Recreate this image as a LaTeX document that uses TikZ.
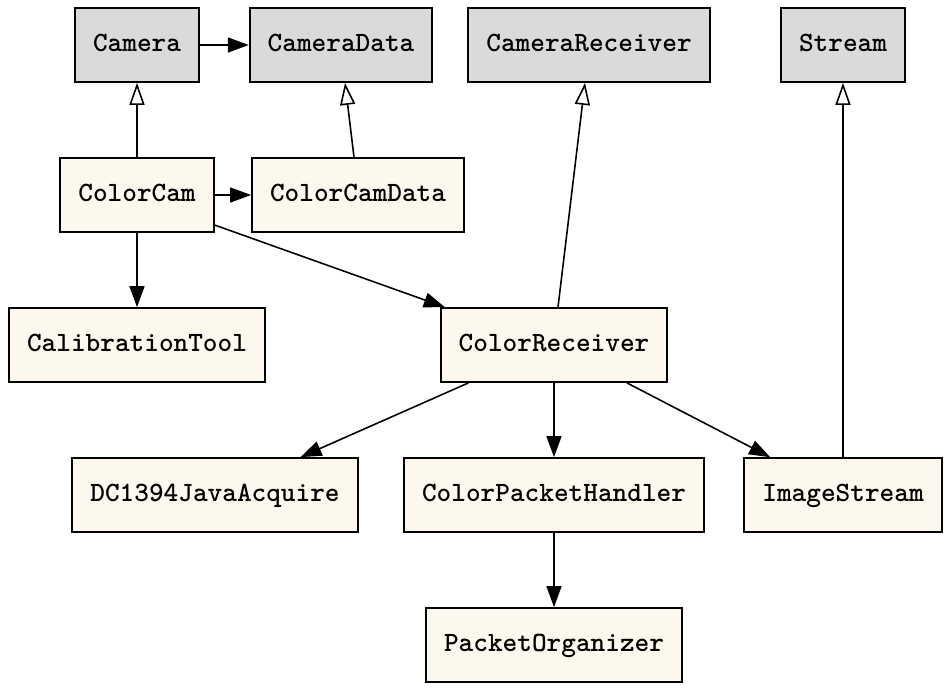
\documentclass[tikz,border=0pt]{standalone}
\usepackage{fontspec}
\usetikzlibrary{arrows.meta}

\definecolor{basegray}{HTML}{DADADA}
\definecolor{classcream}{HTML}{FDF8EE}

\tikzset{
    cls/.style={draw, line width=1pt, fill=classcream, minimum height=1.48cm,
        inner xsep=0.36cm, text height=0.8em, text depth=0.08em,
        font=\fontsize{15.9}{18}\selectfont\ttfamily\bfseries},
    base/.style={cls, fill=basegray},
    uses/.style={line width=0.9pt, -{Triangle[length=0.42cm, width=0.3cm]}},
    isa/.style={line width=0.9pt, -{Triangle[open, length=0.44cm, width=0.3cm]}}
}

\begin{document}
\begin{tikzpicture}[x=0.02cm, y=-0.02cm]
    \useasboundingbox (0, 0) rectangle (950, 691);

    % Base classes (top row)
    \node[base] (camera) at (137, 45) {Camera};
    \node[base] (cameradata) at (341, 45) {CameraData};
    \node[base] (camerareceiver) at (589, 45) {CameraReceiver};
    \node[base] (stream) at (843, 45) {Stream};

    % Color classes
    \node[cls] (colorcam) at (137, 195) {ColorCam};
    \node[cls] (colorcamdata) at (358, 195) {ColorCamData};
    \node[cls] (calibration) at (137, 345) {CalibrationTool};
    \node[cls] (colorreceiver) at (554, 345) {ColorReceiver};
    \node[cls] (dc1394) at (215, 495) {DC1394JavaAcquire};
    \node[cls] (packethandler) at (554, 495) {ColorPacketHandler};
    \node[cls] (imagestream) at (843, 495) {ImageStream};
    \node[cls] (organizer) at (554, 645) {PacketOrganizer};

    % Inheritance
    \draw[isa] (colorcam) -- (camera);
    \draw[isa] (colorcamdata.north -| 354, 0) -- (cameradata.south -| 345, 0);
    \draw[isa] (colorreceiver.north -| 558, 0) -- (camerareceiver.south -| 585, 0);
    \draw[isa] (imagestream) -- (stream);

    % Associations
    \draw[uses] (camera) -- (cameradata);
    \draw[uses] (colorcam) -- (colorcamdata);
    \draw[uses] (colorcam) -- (calibration);
    \draw[uses] (colorcam.east |- 0, 225) -- ([xshift=0.1cm]colorreceiver.north west);
    \draw[uses] (colorreceiver) -- (dc1394);
    \draw[uses] (colorreceiver) -- (packethandler);
    \draw[uses] (colorreceiver) -- (imagestream);
    \draw[uses] (packethandler) -- (organizer);
\end{tikzpicture}
\end{document}
